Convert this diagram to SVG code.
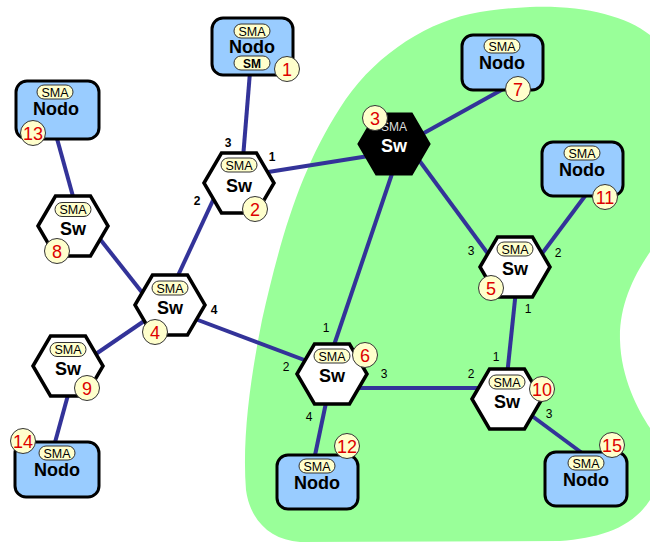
<svg xmlns="http://www.w3.org/2000/svg" width="650" height="545" viewBox="0 0 650 545">
  <style>
    .link { stroke: #333399; stroke-width: 4; fill: none; stroke-linecap: butt; }
    .hex { fill: #ffffff; stroke: #000000; stroke-width: 3.5; stroke-linejoin: miter; }
    .hexdark { fill: #000000; stroke: #000000; stroke-width: 3; }
    .node { fill: #99ccff; stroke: #000000; stroke-width: 3; }
    .pill { fill: #ffffcc; stroke: #333333; stroke-width: 1; }
    .badge { fill: #ffffcc; stroke: #333333; stroke-width: 1; }
    .pilltxt { font-family: "Liberation Sans", Arial, sans-serif; font-size: 12.5px; fill: #000000; text-anchor: middle; }
    .smtxt { font-family: "Liberation Sans", Arial, sans-serif; font-size: 12px; font-weight: bold; fill: #000000; text-anchor: middle; }
    .big { font-family: "Liberation Sans", Arial, sans-serif; font-size: 18px; font-weight: bold; fill: #000000; text-anchor: middle; }
    .bigw { font-family: "Liberation Sans", Arial, sans-serif; font-size: 18px; font-weight: bold; fill: #ffffff; text-anchor: middle; }
    .smaw { font-family: "Liberation Sans", Arial, sans-serif; font-size: 12px; fill: #dddddd; text-anchor: middle; }
    .num { font-family: "Liberation Sans", Arial, sans-serif; font-size: 18px; fill: #dd0000; text-anchor: middle; }
    .port { font-family: "Liberation Sans", Arial, sans-serif; font-size: 12px; fill: #000000; text-anchor: middle; }
    .portb { font-family: "Liberation Sans", Arial, sans-serif; font-size: 12px; font-weight: bold; fill: #000000; text-anchor: middle; }
  </style>
  <defs>
    <polygon id="hexshape" points="-35,0 -17.5,-30 17.5,-30 35,0 17.5,30 -17.5,30"/>
    <rect id="pillshape" x="-18" y="-7" width="36" height="14" rx="7"/>
  </defs>

  <!-- green subnet area -->
  <path id="subnet" fill="#99ff99" d="M 530,7 C 580,5 625,15 650,35 L 650,252 C 632,278 619,308 620,340 C 621,378 638,410 650,428 L 650,500 C 632,528 600,538 560,541 L 300,542 C 270,540 250,520 246,490 C 242,440 250,380 262,320 C 280,240 300,170 340,108 C 370,60 420,25 470,14 C 490,10 510,8 530,7 Z"/>

  <!-- links -->
  <g id="connectors">
    <line class="link" x1="250" y1="72" x2="243" y2="158"/>
    <line class="link" x1="262" y1="173" x2="375" y2="155"/>
    <line class="link" x1="215" y1="196" x2="175" y2="282"/>
    <line class="link" x1="96" y1="234" x2="148" y2="300"/>
    <line class="link" x1="90" y1="358" x2="150" y2="317"/>
    <line class="link" x1="190" y1="317" x2="315" y2="364"/>
    <line class="link" x1="56" y1="135" x2="74" y2="200"/>
    <line class="link" x1="68" y1="395" x2="54" y2="446"/>
    <line class="link" x1="415" y1="138" x2="505" y2="88"/>
    <line class="link" x1="413" y1="152" x2="494" y2="262"/>
    <line class="link" x1="396" y1="162" x2="331" y2="354"/>
    <line class="link" x1="538" y1="259" x2="588" y2="192"/>
    <line class="link" x1="516" y1="290" x2="507" y2="376"/>
    <line class="link" x1="355" y1="388" x2="480" y2="388"/>
    <line class="link" x1="327" y1="398" x2="314" y2="460"/>
    <line class="link" x1="528" y1="413" x2="582" y2="453"/>
  </g>

  <!-- port numbers -->
  <g id="ports">
    <text class="portb" x="228" y="147">3</text>
    <text class="portb" x="272" y="161">1</text>
    <text class="portb" x="197" y="205">2</text>
    <text class="portb" x="214" y="314">4</text>
    <text class="port" x="471" y="255">3</text>
    <text class="port" x="558" y="257">2</text>
    <text class="port" x="528" y="313">1</text>
    <text class="port" x="326" y="332">1</text>
    <text class="port" x="286" y="371">2</text>
    <text class="port" x="384" y="378">3</text>
    <text class="port" x="309" y="421">4</text>
    <text class="port" x="496" y="361">1</text>
    <text class="port" x="471" y="378">2</text>
    <text class="port" x="549" y="418">3</text>
  </g>

  <!-- switches -->
  <g id="sw2" transform="translate(239,183)">
    <use href="#hexshape" class="hex"/>
    <use href="#pillshape" class="pill" y="-18"/>
    <text class="pilltxt" y="-13.5">SMA</text>
    <text class="big" y="9">Sw</text>
    <circle class="badge" cx="16" cy="26" r="12.5"/>
    <text class="num" x="16" y="32.5">2</text>
  </g>
  <g id="sw3" transform="translate(394,144)">
    <use href="#hexshape" class="hexdark"/>
    <text class="smaw" y="-13" font-size="11">SMA</text>
    <text class="bigw" y="8">Sw</text>
    <circle class="badge" cx="-19" cy="-26" r="12.5"/>
    <text class="num" x="-19" y="-19.5">3</text>
  </g>
  <g id="sw4" transform="translate(170,305)">
    <use href="#hexshape" class="hex"/>
    <use href="#pillshape" class="pill" y="-17"/>
    <text class="pilltxt" y="-12.5">SMA</text>
    <text class="big" y="9">Sw</text>
    <circle class="badge" cx="-15" cy="27" r="12.5"/>
    <text class="num" x="-15" y="33.5">4</text>
  </g>
  <g id="sw5" transform="translate(515,267)">
    <use href="#hexshape" class="hex"/>
    <use href="#pillshape" class="pill" y="-18"/>
    <text class="pilltxt" y="-13.5">SMA</text>
    <text class="big" y="8">Sw</text>
    <circle class="badge" cx="-24" cy="21" r="12.5"/>
    <text class="num" x="-24" y="27.5">5</text>
  </g>
  <g id="sw6" transform="translate(332,374)">
    <use href="#hexshape" class="hex"/>
    <use href="#pillshape" class="pill" y="-18"/>
    <text class="pilltxt" y="-13.5">SMA</text>
    <text class="big" y="8">Sw</text>
    <circle class="badge" cx="33" cy="-19" r="12.5"/>
    <text class="num" x="33" y="-12.5">6</text>
  </g>
  <g id="sw8" transform="translate(73,226)">
    <use href="#hexshape" class="hex"/>
    <use href="#pillshape" class="pill" y="-16.5"/>
    <text class="pilltxt" y="-12">SMA</text>
    <text class="big" y="9">Sw</text>
    <circle class="badge" cx="-16" cy="25" r="12.5"/>
    <text class="num" x="-16" y="31.5">8</text>
  </g>
  <g id="sw9" transform="translate(68,366)">
    <use href="#hexshape" class="hex"/>
    <use href="#pillshape" class="pill" y="-16.5"/>
    <text class="pilltxt" y="-12">SMA</text>
    <text class="big" y="9">Sw</text>
    <circle class="badge" cx="19" cy="22" r="12.5"/>
    <text class="num" x="19" y="28.5">9</text>
  </g>
  <g id="sw10" transform="translate(507,399)">
    <use href="#hexshape" class="hex"/>
    <use href="#pillshape" class="pill" y="-17"/>
    <text class="pilltxt" y="-12.5">SMA</text>
    <text class="big" y="9">Sw</text>
    <circle class="badge" cx="35" cy="-10" r="12.5"/>
    <text class="num" x="35" y="-3.5">10</text>
  </g>

  <!-- end nodes -->
  <g id="nodo1" transform="translate(212,18)">
    <rect class="node" width="81" height="57" rx="11"/>
    <use href="#pillshape" class="pill" x="40" y="13"/>
    <text class="pilltxt" x="40" y="17.5">SMA</text>
    <text class="big" x="40" y="35">Nodo</text>
    <use href="#pillshape" class="pill" x="40" y="45"/>
    <text class="smtxt" x="40" y="49.5">SM</text>
    <circle class="badge" cx="75" cy="51" r="12.5"/>
    <text class="num" x="75" y="57.5">1</text>
  </g>
  <g id="nodo7" transform="translate(462,35)">
    <rect class="node" width="81" height="55" rx="11"/>
    <use href="#pillshape" class="pill" x="40" y="11"/>
    <text class="pilltxt" x="40" y="15.5">SMA</text>
    <text class="big" x="40" y="34">Nodo</text>
    <circle class="badge" cx="56" cy="54" r="12.5"/>
    <text class="num" x="56" y="60.5">7</text>
  </g>
  <g id="nodo11" transform="translate(542,142)">
    <rect class="node" width="81" height="54" rx="11"/>
    <use href="#pillshape" class="pill" x="40" y="11"/>
    <text class="pilltxt" x="40" y="15.5">SMA</text>
    <text class="big" x="40" y="34">Nodo</text>
    <circle class="badge" cx="63" cy="55" r="12.5"/>
    <text class="num" x="63" y="61.5">11</text>
  </g>
  <g id="nodo12" transform="translate(277,455)">
    <rect class="node" width="81" height="54" rx="11"/>
    <use href="#pillshape" class="pill" x="40" y="11"/>
    <text class="pilltxt" x="40" y="15.5">SMA</text>
    <text class="big" x="40" y="34">Nodo</text>
    <circle class="badge" cx="70" cy="-9" r="12.5"/>
    <text class="num" x="70" y="-2.5">12</text>
  </g>
  <g id="nodo13" transform="translate(16,81)">
    <rect class="node" width="83" height="58" rx="11"/>
    <use href="#pillshape" class="pill" x="39" y="11"/>
    <text class="pilltxt" x="39" y="15.5">SMA</text>
    <text class="big" x="40" y="34">Nodo</text>
    <circle class="badge" cx="17" cy="52" r="12.5"/>
    <text class="num" x="17" y="58.5">13</text>
  </g>
  <g id="nodo14" transform="translate(15,442)">
    <rect class="node" width="84" height="55" rx="11"/>
    <use href="#pillshape" class="pill" x="42" y="11"/>
    <text class="pilltxt" x="42" y="15.5">SMA</text>
    <text class="big" x="42" y="34">Nodo</text>
    <circle class="badge" cx="8" cy="-1" r="12.5"/>
    <text class="num" x="8" y="5.5">14</text>
  </g>
  <g id="nodo15" transform="translate(545,452)">
    <rect class="node" width="82" height="54" rx="11"/>
    <use href="#pillshape" class="pill" x="41" y="11"/>
    <text class="pilltxt" x="41" y="15.5">SMA</text>
    <text class="big" x="41" y="34">Nodo</text>
    <circle class="badge" cx="67" cy="-7" r="12.5"/>
    <text class="num" x="67" y="-0.5">15</text>
  </g>
</svg>
